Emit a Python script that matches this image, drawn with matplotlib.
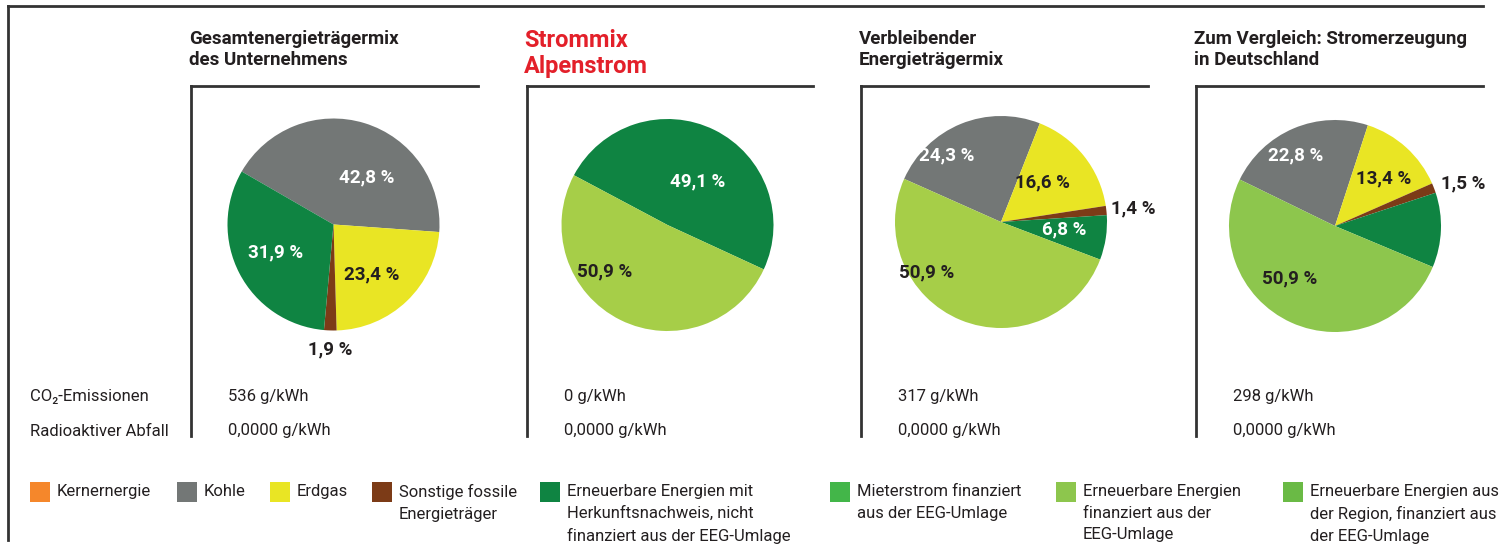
import matplotlib.pyplot as plt
from matplotlib.patches import Rectangle

plt.rcParams['font.family'] = ['Roboto', 'DejaVu Sans']

W, H = 1511, 548

# Daten
titles = ["Gesamtenergieträgermix\ndes Unternehmens", "Strommix\nAlpenstrom",
          "Verbleibender\nEnergieträgermix", "Zum Vergleich: Stromerzeugung\nin Deutschland"]
shares = [
    [42.8, 23.4, 1.9, 31.9],
    [49.1, 50.9],
    [24.3, 16.6, 1.4, 6.8, 50.9],
    [22.8, 13.4, 1.5, 11.4, 50.9],
]
labels = [
    ["42,8 %", "23,4 %", "1,9 %", "31,9 %"],
    ["49,1 %", "50,9 %"],
    ["24,3 %", "16,6 %", "1,4 %", "6,8 %", "50,9 %"],
    ["22,8 %", "13,4 %", "1,5 %", "", "50,9 %"],
]
co2 = ["536 g/kWh", "0 g/kWh", "317 g/kWh", "298 g/kWh"]
abfall = ["0,0000 g/kWh", "0,0000 g/kWh", "0,0000 g/kWh", "0,0000 g/kWh"]
legend_names = ["Kernernergie", "Kohle", "Erdgas", "Sonstige fossile\nEnergieträger",
                "Erneuerbare Energien mit\nHerkunftsnachweis, nicht\nfinanziert aus der EEG-Umlage",
                "Mieterstrom finanziert\naus der EEG-Umlage",
                "Erneuerbare Energien\nfinanziert aus der\nEEG-Umlage",
                "Erneuerbare Energien aus\nder Region, finanziert aus\nder EEG-Umlage"]

# Farben
orange, grau, gelb, braun = "#F5872B", "#737776", "#E9E524", "#7C3B17"
dgruen, mgruen, hgruen, rgruen = "#0F8442", "#43B649", "#8DC64D", "#6ABA45"
pie_colors = [
    [grau, gelb, braun, dgruen],
    [dgruen, "#A6CE48"],
    [grau, gelb, braun, dgruen, "#A6CE48"],
    [grau, gelb, braun, dgruen, hgruen],
]
legend_colors = [orange, grau, gelb, braun, dgruen, mgruen, hgruen, rgruen]
start = [150, 152, 156, 154]

# Layout (Pixel)
panel_x = [191, 527, 861, 1196]
panel_end = [478, 813, 1148, 1483]
centers = [(333.5, 224.5), (667.5, 225), (1001, 222), (1335, 226)]
R = 106
label_pos = [
    [(0.31, 0.44), (0.36, -0.47), (-0.03, -1.18), (-0.55, -0.26)],
    [(0.28, 0.41), (-0.59, -0.44)],
    [(-0.51, 0.63), (0.39, 0.37), (1.25, 0.13), (0.60, -0.07), (-0.70, -0.48)],
    [(-0.37, 0.67), (0.46, 0.45), (1.21, 0.40), (0, 0), (-0.43, -0.49)],
]
white_lbl = {grau, dgruen}
leg_x = [30, 177, 270, 372, 540, 830, 1056, 1283]

fig = plt.figure(figsize=(W / 100, H / 100), dpi=100)
bg = fig.add_axes([0, 0, 1, 1])
bg.set_xlim(0, W)
bg.set_ylim(H, 0)
bg.axis("off")

dark = "#231F20"
bg.plot([8, 1483], [6, 6], color="#333333", lw=2)
bg.plot([8, 8], [6, 540], color="#333333", lw=2)

for i in range(4):
    x0 = panel_x[i]
    bg.plot([x0, panel_end[i]], [86, 86], color="#333333", lw=2)
    bg.plot([x0, x0], [86, 436], color="#333333", lw=2)
    if i == 1:
        bg.text(x0 - 3, 29, titles[i], color="#E3202A", fontsize=17, fontweight="bold",
                va="top", linespacing=1.18)
    else:
        bg.text(x0 - 2, 30, titles[i], color=dark, fontsize=13.5, fontweight="bold",
                va="top", linespacing=1.22)
    bg.text(x0 + 37, 396, co2[i], fontsize=12, color=dark, va="center")
    bg.text(x0 + 37, 431, abfall[i], fontsize=12, color=dark, va="center")

    cx, cy = centers[i]
    ax = fig.add_axes([(cx - R) / W, 1 - (cy + R) / H, 2 * R / W, 2 * R / H])
    ax.pie(shares[i], colors=pie_colors[i], startangle=start[i], counterclock=False,
           radius=1, wedgeprops=dict(linewidth=0))
    ax.set_xlim(-1, 1)
    ax.set_ylim(-1, 1)
    ax.axis("off")
    for lbl, (lx, ly), c in zip(labels[i], label_pos[i], pie_colors[i]):
        outside = (lx * lx + ly * ly) > 1
        col = "white" if (c in white_lbl and not outside) else dark
        ax.text(lx, ly, lbl, ha="center", va="center", fontsize=13.5,
                fontweight="bold", color=col)

bg.text(30, 396, "CO₂-Emissionen", fontsize=12, color=dark, va="center")
bg.text(30, 431, "Radioaktiver Abfall", fontsize=12, color=dark, va="center")

for x, name, c in zip(leg_x, legend_names, legend_colors):
    bg.add_patch(Rectangle((x, 482), 20, 20, color=c, lw=0))
    bg.text(x + 27, 484, name, fontsize=12, color=dark, va="top", linespacing=1.55)

plt.savefig("out.png", dpi=100)
